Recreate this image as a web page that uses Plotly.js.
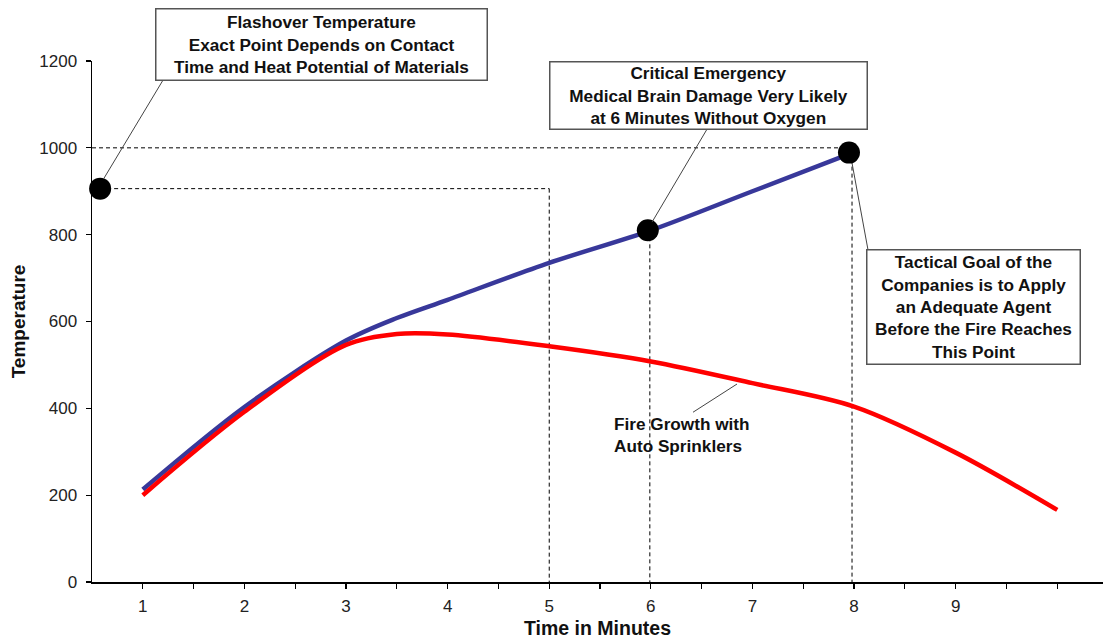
<!DOCTYPE html>
<html>
<head>
<meta charset="utf-8">
<script src="https://cdn.plot.ly/plotly-3.0.1.min.js"></script>
<style>html,body{margin:0;padding:0;background:#fff;}#chart{width:1103px;height:642px;}</style>
</head>
<body>
<div id="chart"></div>
<script>
// ---- data ----
const blueX = [1, 2, 3, 3.5, 4, 5, 6, 7, 8];
const blueY = [213, 403, 556, 608, 650, 735, 810, 900, 990];
const redX = [1, 2, 3, 3.5, 4, 5, 6, 7, 8, 9, 10];
const redY = [200, 392, 546, 571, 570, 543, 508, 458, 404, 298, 166];
const markerX = [0.58, 5.97, 7.95];
const markerY = [906, 810, 989];
const xTickVals = [1, 1.5, 2, 2.5, 3, 3.5, 4, 4.5, 5, 5.5, 6, 6.5, 7, 7.5, 8, 8.5, 9, 9.5, 10];
const xTickText = ['1', '', '2', '', '3', '', '4', '', '5', '', '6', '', '7', '', '8', '', '9', '', ''];
const yTickVals = [0, 200, 400, 600, 800, 1000, 1200];
const flashoverTemp = 906;
const flashoverTime = 5;
const criticalTime = 6;
const criticalTemp = 810;
const goalTime = 8;
const goalTemp = 1000;
const goalPointTemp = 989;
const labelFlashover = 'Flashover Temperature<br>Exact Point Depends on Contact<br>Time and Heat Potential of Materials';
const labelCritical = 'Critical Emergency<br>Medical Brain Damage Very Likely<br>at 6 Minutes Without Oxygen';
const labelTactical = 'Tactical Goal of the<br>Companies is to Apply<br>an Adequate Agent<br>Before the Fire Reaches<br>This Point';
const labelSprinkler = 'Fire Growth with<br>Auto Sprinklers';

const FONT = 'Liberation Sans, Arial, Helvetica, sans-serif';

const traces = [
  {x: blueX, y: blueY, mode: 'lines', line: {color: '#38389a', width: 4.5, shape: 'spline', smoothing: 0.9}, hoverinfo: 'skip'},
  {x: redX, y: redY, mode: 'lines', line: {color: '#ff0000', width: 4.5, shape: 'spline', smoothing: 0.9}, hoverinfo: 'skip'},
  {x: markerX, y: markerY, mode: 'markers', marker: {color: '#000', size: 22}, hoverinfo: 'skip', cliponaxis: false}
];

const dash = {color: '#000', width: 1, dash: '4px,3px'};
const call = {color: '#444', width: 1};
const shapes = [
  {type: 'line', xref: 'x', yref: 'y', x0: 0.5, x1: goalTime - 0.05, y0: goalTemp, y1: goalTemp, line: dash, layer: 'below'},
  {type: 'line', xref: 'x', yref: 'y', x0: markerX[0], x1: flashoverTime, y0: flashoverTemp, y1: flashoverTemp, line: dash, layer: 'below'},
  {type: 'line', xref: 'x', yref: 'y', x0: flashoverTime, x1: flashoverTime, y0: flashoverTemp, y1: 0, line: dash, layer: 'below'},
  {type: 'line', xref: 'x', yref: 'y', x0: criticalTime - 0.01, x1: criticalTime - 0.01, y0: criticalTemp, y1: 0, line: dash, layer: 'below'},
  {type: 'line', xref: 'x', yref: 'y', x0: goalTime - 0.02, x1: goalTime - 0.02, y0: goalPointTemp, y1: 0, line: dash, layer: 'below'},
  {type: 'line', xref: 'x', yref: 'y', x0: 1.199, y0: 1156, x1: 0.618, y1: 930, line: call},
  {type: 'line', xref: 'x', yref: 'y', x0: 6.553, y0: 1043, x1: 6.012, y1: 829, line: call},
  {type: 'line', xref: 'x', yref: 'y', x0: 7.98, y0: 965, x1: 8.138, y1: 764, line: call},
  {type: 'line', xref: 'x', yref: 'y', x0: 6.415, y0: 391, x1: 6.848, y1: 456, line: call}
];

const boxFont = {family: FONT, size: 17.2, color: '#111'};
const annotations = [
  {xref: 'x', yref: 'paper', x: 2.754, y: 1.0326, text: '<b>' + labelFlashover + '</b>', showarrow: false,
   xanchor: 'center', yanchor: 'middle', width: 328, height: 68, bordercolor: '#555', borderwidth: 1.5, bgcolor: '#fff', font: boxFont},
  {xref: 'x', yref: 'y', x: 6.563, y: 1121, text: '<b>' + labelCritical + '</b>', showarrow: false,
   xanchor: 'center', yanchor: 'middle', width: 314, height: 64, bordercolor: '#555', borderwidth: 1.5, bgcolor: '#fff', font: boxFont},
  {xref: 'x', yref: 'y', x: 9.171, y: 634, text: '<b>' + labelTactical + '</b>', showarrow: false,
   xanchor: 'center', yanchor: 'middle', width: 210, height: 111, bordercolor: '#555', borderwidth: 1.5, bgcolor: '#fff', font: boxFont},
  {xref: 'x', yref: 'y', x: 5.62, y: 338, text: '<b>' + labelSprinkler + '</b>', showarrow: false,
   xanchor: 'left', yanchor: 'middle', align: 'left', font: boxFont}
];

const layout = {
  width: 1103, height: 642,
  margin: {l: 92, r: 0, t: 61, b: 60},
  paper_bgcolor: '#fff', plot_bgcolor: '#fff',
  showlegend: false,
  font: {family: FONT, color: '#222'},
  xaxis: {
    range: [0.5, 10.45], showgrid: false, zeroline: false,
    showline: true, linecolor: '#000', linewidth: 1.5,
    ticks: 'outside', ticklen: 5, tickcolor: '#000', tickwidth: 1.2,
    tickvals: xTickVals, ticktext: xTickText,
    tickfont: {family: FONT, size: 17, color: '#222'}, ticklabelstandoff: 3,
    title: {text: '<b>Time in Minutes</b>', font: {family: FONT, size: 19.5, color: '#111'}, standoff: 6}
  },
  yaxis: {
    range: [0, 1200], showgrid: false, zeroline: false,
    showline: true, linecolor: '#000', linewidth: 1.5,
    ticks: 'outside', ticklen: 5, tickcolor: '#000', tickwidth: 1.2,
    tickvals: yTickVals,
    tickfont: {family: FONT, size: 17, color: '#222'}, ticklabelstandoff: 5,
    title: {text: '<b>Temperature</b>', font: {family: FONT, size: 19, color: '#111'}, standoff: 8}
  },
  shapes: shapes,
  annotations: annotations
};

Plotly.newPlot('chart', traces, layout, {staticPlot: true, displayModeBar: false});
</script>
</body>
</html>
